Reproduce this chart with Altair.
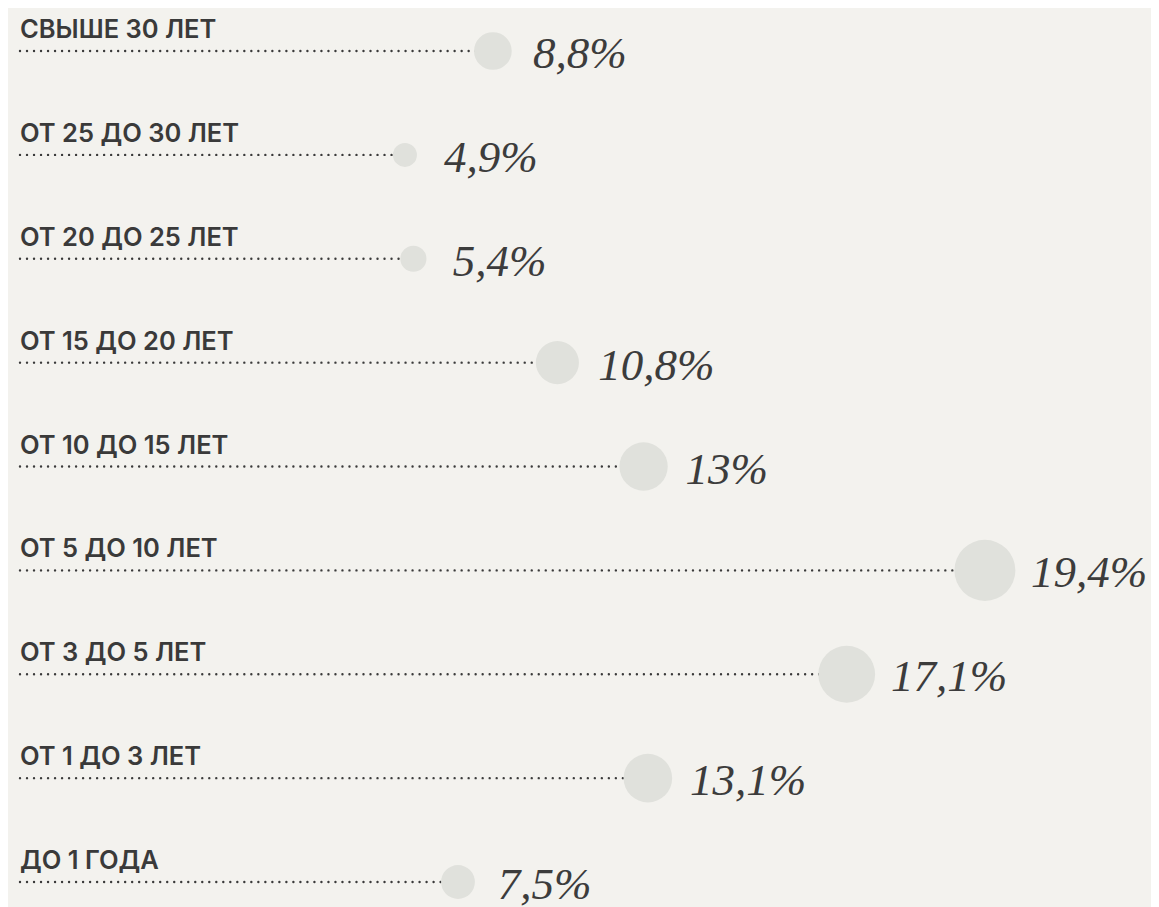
import altair as alt
import pandas as pd

labels = ["СВЫШЕ 30 ЛЕТ", "ОТ 25 ДО 30 ЛЕТ", "ОТ 20 ДО 25 ЛЕТ", "ОТ 15 ДО 20 ЛЕТ",
          "ОТ 10 ДО 15 ЛЕТ", "ОТ 5 ДО 10 ЛЕТ", "ОТ 3 ДО 5 ЛЕТ", "ОТ 1 ДО 3 ЛЕТ", "ДО 1 ГОДА"]
values = [8.8, 4.9, 5.4, 10.8, 13, 19.4, 17.1, 13.1, 7.5]
value_text = [f"{v:g}".replace(".", ",") + "%" for v in values]

df = pd.DataFrame({
    "row": list(range(len(labels))),
    "label": labels,
    "value": values,
    "vtext": value_text,
})

BG = "#f3f2ee"
DARK = "#3a3a3a"

y_enc = alt.Y("row:Q", scale=alt.Scale(domain=[0, 8], range=[43, 874], nice=False), axis=None)
# dots layer: domain starts left of zero so that the line begins at the left margin
x_rule_scale = alt.Scale(type="pow", exponent=2, domain=[-14.49, 20], range=[12, 1015.8], nice=False)
x_circ_scale = alt.Scale(type="pow", exponent=2, domain=[0, 20], range=[357.4, 1015.8], nice=False)
x_text_scale = alt.Scale(type="pow", exponent=2, domain=[0, 20], range=[396.1, 1062.3], nice=False)

base = alt.Chart(df)

dots = base.transform_calculate(start="-14.49").mark_rule(
    color=DARK, strokeWidth=2.4, strokeDash=[0.01, 7], strokeCap="round"
).encode(
    x=alt.X("start:Q", scale=x_rule_scale, axis=None),
    x2=alt.X2("value:Q"),
    y=y_enc,
)

circles = base.mark_circle(color="#e0e1dc", opacity=1).encode(
    x=alt.X("value:Q", scale=x_circ_scale, axis=None),
    y=y_enc,
    size=alt.Size("value:Q", scale=alt.Scale(domain=[min(values), max(values)], range=[576, 3721]), legend=None),
)

vals = base.mark_text(align="left", baseline="alphabetic", dy=17, font="Liberation Serif",
                      fontStyle="italic", fontSize=45, color="#3c3c3c").encode(
    x=alt.X("value:Q", scale=x_text_scale, axis=None),
    y=y_enc,
    text="vtext:N",
)

labs = base.mark_text(align="left", baseline="alphabetic", dy=-13, font="Inter",
                      fontWeight=600, fontSize=25.5, color=DARK).encode(
    x=alt.value(12),
    y=y_enc,
    text="label:N",
)

chart = alt.layer(dots, circles, vals, labs).resolve_scale(x="independent").properties(
    width=1143, height=899, autosize=alt.AutoSizeParams(type="none"), padding=0, background=BG
).configure_view(stroke=None)

chart.save("out.html", embed_options={"renderer": "svg", "actions": False})
